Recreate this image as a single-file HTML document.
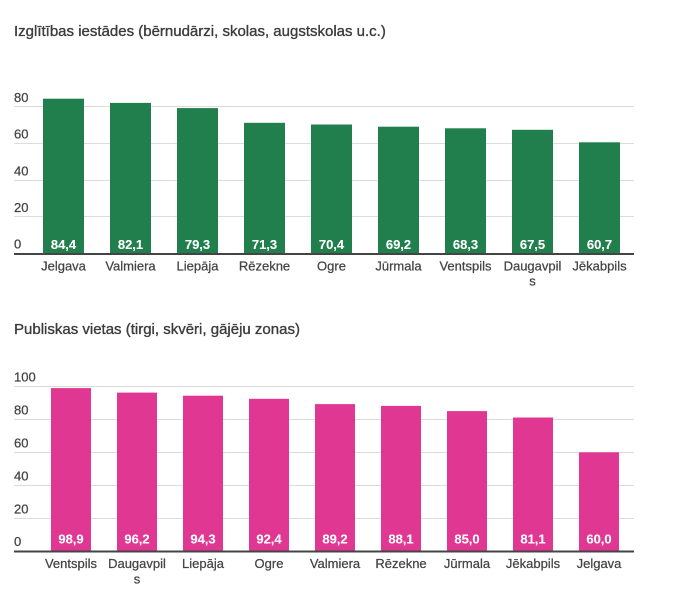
<!DOCTYPE html>
<html><head><meta charset="utf-8"><style>
html,body{margin:0;padding:0;background:#fff;}
svg{display:block;}
text{font-family:"Liberation Sans",Arial,sans-serif;}
.t{font-size:15px;fill:#3c3c3c;stroke:#3c3c3c;stroke-width:0.35px;}
.y{font-size:13px;fill:#444;stroke:#444;stroke-width:0.25px;}
.x{font-size:13px;fill:#444;text-anchor:middle;stroke:#444;stroke-width:0.25px;}
.v{font-size:13px;fill:#fff;font-weight:bold;text-anchor:middle;stroke:#fff;stroke-width:0.1px;}
</style></head><body>
<svg width="680" height="606" viewBox="0 0 680 606" xmlns="http://www.w3.org/2000/svg">
<rect width="680" height="606" fill="#fff"/>
<!-- Chart 1 -->
<text class="t" x="14" y="36">Izglītības iestādes (bērnudārzi, skolas, augstskolas u.c.)</text>
<g fill="#dcdcdc">
<rect x="14" y="106" width="620" height="1"/>
<rect x="14" y="143" width="620" height="1"/>
<rect x="14" y="180" width="620" height="1"/>
<rect x="14" y="216" width="620" height="1"/>
</g>
<text class="y" x="14" y="102">80</text>
<text class="y" x="14" y="138.5">60</text>
<text class="y" x="14" y="175.5">40</text>
<text class="y" x="14" y="212">20</text>
<text class="y" x="14" y="248.5">0</text>
<g fill="#217e4d">
<rect x="43" y="98.7" width="41" height="155"/>
<rect x="110" y="102.9" width="41" height="151"/>
<rect x="177" y="108.1" width="41" height="146"/>
<rect x="244" y="122.8" width="41" height="131"/>
<rect x="311" y="124.5" width="41" height="130"/>
<rect x="378" y="126.7" width="41" height="128"/>
<rect x="445" y="128.3" width="41" height="126"/>
<rect x="512" y="129.8" width="41" height="125"/>
<rect x="579" y="142.3" width="41" height="112"/>
</g>
<rect x="14" y="253" width="620" height="2" fill="#444"/>
<text class="v" x="63.5" y="249">84,4</text>
<text class="v" x="130.5" y="249">82,1</text>
<text class="v" x="197.5" y="249">79,3</text>
<text class="v" x="264.5" y="249">71,3</text>
<text class="v" x="331.5" y="249">70,4</text>
<text class="v" x="398.5" y="249">69,2</text>
<text class="v" x="465.5" y="249">68,3</text>
<text class="v" x="532.5" y="249">67,5</text>
<text class="v" x="599.5" y="249">60,7</text>
<text class="x" x="63.5" y="270.5">Jelgava</text>
<text class="x" x="130.5" y="270.5">Valmiera</text>
<text class="x" x="197.5" y="270.5">Liepāja</text>
<text class="x" x="264.5" y="270.5">Rēzekne</text>
<text class="x" x="331.5" y="270.5">Ogre</text>
<text class="x" x="398.5" y="270.5">Jūrmala</text>
<text class="x" x="465.5" y="270.5">Ventspils</text>
<text class="x" x="532.5" y="270.5">Daugavpil</text>
<text class="x" x="532.5" y="285.5">s</text>
<text class="x" x="599.5" y="270.5">Jēkabpils</text>

<!-- Chart 2 -->
<text class="t" x="14" y="334">Publiskas vietas (tirgi, skvēri, gājēju zonas)</text>
<g fill="#dcdcdc">
<rect x="14" y="386" width="620" height="1"/>
<rect x="14" y="419" width="620" height="1"/>
<rect x="14" y="452" width="620" height="1"/>
<rect x="14" y="485" width="620" height="1"/>
<rect x="14" y="518" width="620" height="1"/>
</g>
<text class="y" x="14" y="381.5">100</text>
<text class="y" x="14" y="414.5">80</text>
<text class="y" x="14" y="447.5">60</text>
<text class="y" x="14" y="480.5">40</text>
<text class="y" x="14" y="513.5">20</text>
<text class="y" x="14" y="546">0</text>
<g fill="#e03792">
<rect x="51" y="388.1" width="40" height="163"/>
<rect x="117" y="392.6" width="40" height="159"/>
<rect x="183" y="395.7" width="40" height="156"/>
<rect x="249" y="398.8" width="40" height="153"/>
<rect x="315" y="404.1" width="40" height="147"/>
<rect x="381" y="405.9" width="40" height="146"/>
<rect x="447" y="411.1" width="40" height="141"/>
<rect x="513" y="417.5" width="40" height="134"/>
<rect x="579" y="452.3" width="40" height="99"/>
</g>
<rect x="14" y="550.5" width="620" height="2" fill="#444"/>
<text class="v" x="71" y="543.5">98,9</text>
<text class="v" x="137" y="543.5">96,2</text>
<text class="v" x="203" y="543.5">94,3</text>
<text class="v" x="269" y="543.5">92,4</text>
<text class="v" x="335" y="543.5">89,2</text>
<text class="v" x="401" y="543.5">88,1</text>
<text class="v" x="467" y="543.5">85,0</text>
<text class="v" x="533" y="543.5">81,1</text>
<text class="v" x="599" y="543.5">60,0</text>
<text class="x" x="71" y="568">Ventspils</text>
<text class="x" x="137" y="568">Daugavpil</text>
<text class="x" x="137" y="583.5">s</text>
<text class="x" x="203" y="568">Liepāja</text>
<text class="x" x="269" y="568">Ogre</text>
<text class="x" x="335" y="568">Valmiera</text>
<text class="x" x="401" y="568">Rēzekne</text>
<text class="x" x="467" y="568">Jūrmala</text>
<text class="x" x="533" y="568">Jēkabpils</text>
<text class="x" x="599" y="568">Jelgava</text>
</svg>
</body></html>
